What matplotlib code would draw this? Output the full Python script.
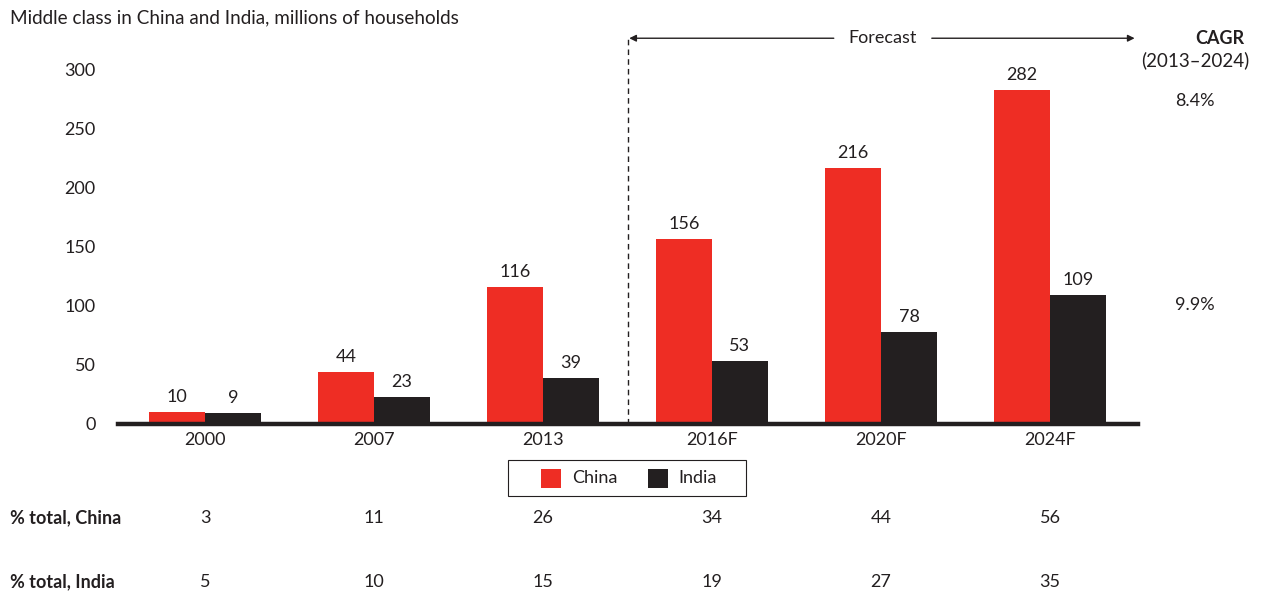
import numpy as np
import matplotlib.pyplot as plt
from matplotlib.patches import Rectangle

plt.rcParams['font.family'] = ['Lato', 'DejaVu Sans']

# data
years = ['2000', '2007', '2013', '2016F', '2020F', '2024F']
china = [10, 44, 116, 156, 216, 282]
india = [9, 23, 39, 53, 78, 109]
pct_china = [3, 11, 26, 34, 44, 56]
pct_india = [5, 10, 15, 19, 27, 35]
cagr_china = '8.4%'
cagr_india = '9.9%'

red = '#EE2D24'
black = '#231F20'
txt = '#231F20'

W, H = 1261, 592
fig = plt.figure(figsize=(W / 100, H / 100), dpi=100)

def fx(x):
    return x / W

def fy(y):
    return 1 - y / H

ax = fig.add_axes([fx(118), fy(424), fx(1138) - fx(118), fy(69) - fy(424)])

x = np.arange(len(years))
w = 0.33
ax.bar(x - w / 2, china, w, color=red, edgecolor='none', zorder=2)
ax.bar(x + w / 2, india, w, color=black, edgecolor='none', zorder=2)

for i in range(len(years)):
    ax.annotate(str(china[i]), (x[i] - w / 2, china[i]), xytext=(0, 5), textcoords='offset points',
                ha='center', va='bottom', fontsize=13, color=txt, annotation_clip=False)
    ax.annotate(str(india[i]), (x[i] + w / 2, india[i]), xytext=(0, 5), textcoords='offset points',
                ha='center', va='bottom', fontsize=13, color=txt, annotation_clip=False)

ax.set_xlim(-0.515, 5.52)
ax.set_ylim(0, 300)
ax.set_yticks([0, 50, 100, 150, 200, 250, 300])
ax.set_xticks(x)
ax.set_xticklabels(years)
ax.tick_params(axis='both', length=0, labelsize=13, colors=txt)
ax.tick_params(axis='y', pad=16)
ax.tick_params(axis='x', pad=6)
for s in ax.spines.values():
    s.set_visible(False)
ax.axhline(0, color=black, lw=3.2, zorder=3, clip_on=False)

# forecast divider
ax.plot([2.5, 2.5], [0, 326], ls=(0, (4, 3)), color=black, lw=1, clip_on=False)
ax.annotate('', xy=(2.51, 326), xytext=(3.72, 326), xycoords='data',
            arrowprops=dict(arrowstyle='-|>', color=black, lw=1, mutation_scale=10,
                            shrinkA=0, shrinkB=0), annotation_clip=False)
ax.annotate('', xy=(5.5, 326), xytext=(4.3, 326), xycoords='data',
            arrowprops=dict(arrowstyle='-|>', color=black, lw=1, mutation_scale=10,
                            shrinkA=0, shrinkB=0), annotation_clip=False)
ax.text(4.006, 326, 'Forecast', ha='center', va='center', fontsize=13, color=txt, clip_on=False)

# title and side texts
fig.text(fx(10), fy(18), 'Middle class in China and India, millions of households',
         ha='left', va='center', fontsize=13.6, color=txt)
fig.text(fx(1220), fy(38), 'CAGR', ha='center', va='center', fontsize=13, fontweight='bold', color=txt)
fig.text(fx(1195), fy(60), '(2013–2024)', ha='center', va='center', fontsize=13.5, color=txt)
fig.text(fx(1195), fy(101), cagr_china, ha='center', va='center', fontsize=13, color=txt)
fig.text(fx(1195), fy(305), cagr_india, ha='center', va='center', fontsize=13, color=txt)

# legend box
fig.patches.append(Rectangle((fx(508), fy(496)), fx(746) - fx(508), fy(460) - fy(496),
                             transform=fig.transFigure, facecolor='white', edgecolor=black, lw=0.8))
fig.patches.append(Rectangle((fx(541), fy(488)), fx(20), fy(469) - fy(488),
                             transform=fig.transFigure, facecolor=red, edgecolor='none'))
fig.patches.append(Rectangle((fx(648), fy(488)), fx(20), fy(469) - fy(488),
                             transform=fig.transFigure, facecolor=black, edgecolor='none'))
fig.text(fx(572), fy(478), 'China', ha='left', va='center', fontsize=13, color=txt)
fig.text(fx(678), fy(478), 'India', ha='left', va='center', fontsize=13, color=txt)

# bottom rows
fig.text(fx(10), fy(518), '% total, China', ha='left', va='center', fontsize=13, fontweight='bold', color=txt)
fig.text(fx(10), fy(582), '% total, India', ha='left', va='center', fontsize=13, fontweight='bold', color=txt)
for i in range(len(years)):
    xc = ax.transData.transform((x[i], 0))[0]
    xf = fig.transFigure.inverted().transform((xc, 0))[0]
    fig.text(xf, fy(518), str(pct_china[i]), ha='center', va='center', fontsize=13, color=txt)
    fig.text(xf, fy(582), str(pct_india[i]), ha='center', va='center', fontsize=13, color=txt)

fig.savefig('out.png', dpi=100, facecolor='white')
